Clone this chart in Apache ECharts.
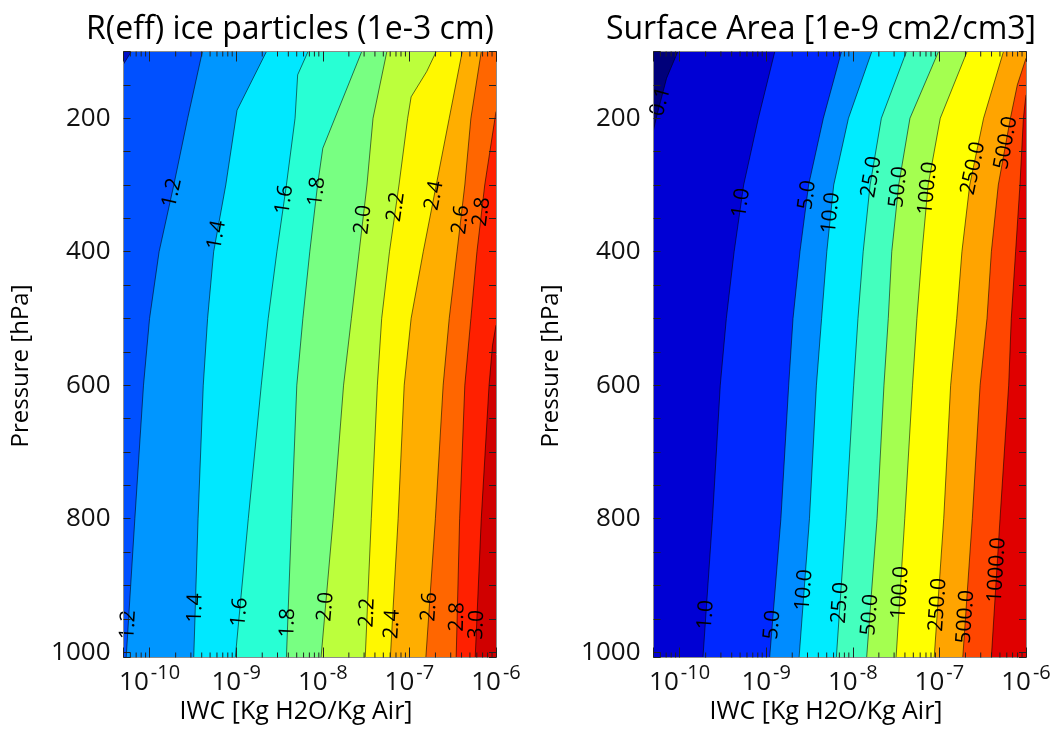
<!DOCTYPE html>
<html>
<head>
<meta charset="utf-8">
<script src="https://cdn.jsdelivr.net/npm/echarts@6.0.0/dist/echarts.min.js"></script>
<style>
  html, body { margin: 0; padding: 0; background: #ffffff; }
  #chart { width: 1061px; height: 729px; }
</style>
</head>
<body>
<div id="chart"></div>
<script>
// ---------------------------------------------------------------------------
// Contour traces. Each point is [pressure (hPa), log10 of IWC (kg H2O / kg air)]
// ---------------------------------------------------------------------------

// Effective radius of ice particles (1e-3 cm)
const reffLevels = ['1.0', '1.2', '1.4', '1.6', '1.8', '2.0', '2.2', '2.4', '2.6', '2.8', '3.0'];
const reff_1_0 = [[100, -10.21], [119, -10.301]];
const reff_1_2 = [[100, -9.39], [200, -9.56], [300, -9.72], [400, -9.89], [500, -10.00], [600, -10.07], [800, -10.17], [1008, -10.27]];
const reff_1_4 = [[100, -8.65], [188, -8.99], [300, -9.12], [400, -9.26], [500, -9.33], [600, -9.38], [800, -9.44], [1008, -9.49]];
const reff_1_6 = [[100, -8.17], [135, -8.29], [200, -8.32], [300, -8.42], [400, -8.53], [500, -8.63], [600, -8.71], [800, -8.86], [1008, -9.01]];
const reff_1_8 = [[100, -7.55], [245, -8.00], [300, -8.06], [400, -8.15], [500, -8.23], [600, -8.30], [800, -8.36], [1008, -8.42]];
const reff_2_0 = [[100, -7.26], [200, -7.42], [300, -7.49], [400, -7.58], [500, -7.67], [600, -7.76], [800, -7.88], [1008, -8.02]];
const reff_2_2 = [[100, -6.69], [130, -6.80], [168, -6.98], [200, -7.02], [300, -7.12], [400, -7.23], [500, -7.32], [600, -7.37], [800, -7.44], [1008, -7.51]];
const reff_2_4 = [[100, -6.39], [200, -6.54], [300, -6.69], [400, -6.84], [500, -6.98], [600, -7.06], [800, -7.13], [1008, -7.22]];
const reff_2_6 = [[100, -6.17], [200, -6.29], [300, -6.36], [400, -6.45], [500, -6.54], [600, -6.61], [800, -6.70], [1008, -6.81]];
const reff_2_8 = [[190, -6.00], [300, -6.13], [400, -6.22], [500, -6.29], [600, -6.36], [800, -6.42], [1008, -6.46]];
const reff_3_0 = [[510, -6.00], [540, -6.04], [600, -6.08], [800, -6.17], [1008, -6.24]];
// pressure where each level is labelled (upper and lower row)
const reffLabelTop = [null, 312, 375, 322, 310, 352, 333, 316, 352, 340, null];
const reffLabelBottom = [null, 959, 934, 940, 956, 932, 941, 958, 932, 947, 959];
// fill colours, lowest band first
const reffColors = ['#0010c8', '#0050ff', '#0096ff', '#00e8ff', '#28ffd4', '#78ff82',
                    '#bcff3c', '#fff800', '#ffae00', '#ff6600', '#ff2000', '#d00000'];

// Surface area (1e-9 cm2/cm3)
const saLevels = ['0.1', '1.0', '5.0', '10.0', '25.0', '50.0', '100.0', '250.0', '500.0', '1000.0'];
const sa_0_1 = [[100, -10.02], [140, -10.15], [175, -10.22], [200, -10.27], [218, -10.301]];
const sa_1 = [[100, -8.90], [200, -9.09], [300, -9.26], [400, -9.37], [500, -9.46], [600, -9.53], [800, -9.62], [1008, -9.73]];
const sa_5 = [[100, -8.13], [200, -8.34], [300, -8.51], [400, -8.61], [500, -8.69], [600, -8.74], [800, -8.83], [1008, -8.96]];
const sa_10 = [[100, -7.78], [200, -8.05], [300, -8.22], [400, -8.30], [500, -8.36], [600, -8.42], [800, -8.50], [1008, -8.62]];
const sa_25 = [[100, -7.38], [200, -7.67], [300, -7.80], [400, -7.88], [500, -7.94], [600, -7.99], [800, -8.08], [1008, -8.19]];
const sa_50 = [[100, -7.01], [200, -7.34], [300, -7.47], [400, -7.55], [500, -7.59], [600, -7.64], [800, -7.72], [1008, -7.84]];
const sa_100 = [[100, -6.68], [200, -6.99], [300, -7.13], [400, -7.20], [500, -7.26], [600, -7.31], [800, -7.40], [1008, -7.50]];
const sa_250 = [[100, -6.26], [200, -6.49], [300, -6.65], [400, -6.74], [500, -6.80], [600, -6.87], [800, -6.95], [1008, -7.06]];
const sa_500 = [[110, -6.00], [150, -6.10], [200, -6.18], [300, -6.32], [400, -6.40], [500, -6.45], [600, -6.53], [800, -6.62], [1008, -6.73]];
const sa_1000 = [[165, -6.00], [200, -6.03], [300, -6.07], [400, -6.12], [500, -6.17], [600, -6.20], [800, -6.30], [1008, -6.40]];
const saLabelTop = [175, 327, 315, 342, 288, 303, 305, 275, 237, null];
const saLabelBottom = [null, 944, 959, 907, 926, 944, 911, 929, 947, 877];
const saColors = ['#00007a', '#0000d4', '#0028ff', '#008cff', '#00ecff', '#44ffbe',
                  '#a4ff50', '#ffff00', '#ffa400', '#ff4600', '#e00000'];

// Axis ranges and tick labels
const IWC_MIN = 5e-11, IWC_MAX = 1e-6;
const P_TOP = 100, P_BOTTOM = 1008;
const pressureLabels = [200, 400, 600, 800, 1000];

const reffLines = [reff_1_0, reff_1_2, reff_1_4, reff_1_6, reff_1_8, reff_2_0, reff_2_2, reff_2_4, reff_2_6, reff_2_8, reff_3_0];
const saLines = [sa_0_1, sa_1, sa_5, sa_10, sa_25, sa_50, sa_100, sa_250, sa_500, sa_1000];

const FONT = '"Open Sans", "Noto Sans", "DejaVu Sans", sans-serif';

// minor log ticks (2..9 x 10^n) inside the IWC range
const minorIwcTicks = [];
for (let n = -11; n <= -7; n++) {
  for (let k = 2; k <= 9; k++) {
    const v = k * Math.pow(10, n);
    if (v > IWC_MIN * 1.001 && v < IWC_MAX * 0.999) minorIwcTicks.push(v);
  }
}

const toPt = (api, d) => api.coord([Math.pow(10, d[1]), d[0]]);

// filled bands, painted from lowest to highest level
function fillSeries(xi, yi, lines, colors) {
  return {
    type: 'custom', xAxisIndex: xi, yAxisIndex: yi, z: 2, silent: true, clip: true,
    data: colors.map((c, i) => [1e-8, 500, i]),
    renderItem(params, api) {
      const i = api.value(2);
      let pts;
      if (i === 0) {
        pts = [api.coord([IWC_MIN, P_TOP]), api.coord([IWC_MIN, P_BOTTOM]),
               api.coord([IWC_MAX, P_BOTTOM]), api.coord([IWC_MAX, P_TOP])];
      } else {
        const line = lines[i - 1];
        pts = line.map(d => toPt(api, d));
        const last = line[line.length - 1];
        if (last[1] <= -10.3) pts.push(api.coord([IWC_MIN, P_BOTTOM]));
        pts.push(api.coord([IWC_MAX, P_BOTTOM]));
        pts.push(api.coord([IWC_MAX, P_TOP]));
      }
      return { type: 'polygon', shape: { points: pts }, style: { fill: colors[i] } };
    }
  };
}

function placeOnLine(line, p, api) {
  for (let k = 0; k < line.length - 1; k++) {
    if (p >= line[k][0] && p <= line[k + 1][0]) {
      const A = toPt(api, line[k]);
      const B = toPt(api, line[k + 1]);
      const t = (p - line[k][0]) / (line[k + 1][0] - line[k][0]);
      const dx = A[0] - B[0], dy = A[1] - B[1];
      return { x: A[0] + t * (B[0] - A[0]), y: A[1] + t * (B[1] - A[1]), r: Math.atan2(-dy, dx) };
    }
  }
  return null;
}

// contour lines with their value labels
function contourSeries(xi, yi, lines, levels, topP, botP) {
  return {
    type: 'custom', xAxisIndex: xi, yAxisIndex: yi, z: 3, silent: true, clip: false,
    data: lines.map((l, i) => [1e-8, 500, i]),
    renderItem(params, api) {
      const i = api.value(2);
      const line = lines[i];
      const children = [{
        type: 'polyline',
        shape: { points: line.map(d => toPt(api, d)) },
        style: { stroke: 'rgba(0,0,0,0.7)', lineWidth: 0.8, fill: null }
      }];
      [topP[i], botP[i]].forEach(p => {
        if (p == null) return;
        const lab = placeOnLine(line, p, api);
        if (!lab) return;
        children.push({
          type: 'text', x: lab.x, y: lab.y, rotation: lab.r,
          style: {
            text: levels[i], fill: '#000', fontSize: 21, fontFamily: FONT,
            align: 'center', verticalAlign: 'middle'
          }
        });
      });
      return { type: 'group', children };
    }
  };
}

// minor log ticks on the bottom and top edges
function minorTickSeries(xi, yi) {
  return {
    type: 'custom', xAxisIndex: xi, yAxisIndex: yi, z: 12, silent: true, clip: false,
    data: minorIwcTicks.map(v => [v, 500]),
    renderItem(params, api) {
      const v = api.value(0);
      const top = api.coord([v, P_TOP]);
      const bot = api.coord([v, P_BOTTOM]);
      const st = { stroke: '#222', lineWidth: 1 };
      return {
        type: 'group', children: [
          { type: 'line', shape: { x1: bot[0], y1: bot[1], x2: bot[0], y2: bot[1] - 5 }, style: st },
          { type: 'line', shape: { x1: top[0], y1: top[1], x2: top[0], y2: top[1] + 5 }, style: st }
        ]
      };
    }
  };
}

function xAxisDef(gi, pos) {
  return {
    type: 'log', logBase: 10, gridIndex: gi, position: pos, min: IWC_MIN, max: IWC_MAX, z: 10,
    axisLine: { show: true, onZero: false, lineStyle: { color: '#8c8c8c', width: 1 } },
    axisTick: { show: true, inside: true, length: 10, lineStyle: { color: '#222', width: 1 } },
    splitLine: { show: false },
    axisLabel: pos === 'bottom' ? {
      show: true, margin: 6, color: '#111',
      formatter: v => {
        const e = Math.log10(v), r = Math.round(e);
        return Math.abs(e - r) > 1e-6 ? '' : '{b|10}{s|' + r + '}';
      },
      rich: {
        b: { fontSize: 26, lineHeight: 38, fontFamily: FONT, color: '#111' },
        s: { fontSize: 20, lineHeight: 14, verticalAlign: 'top', fontFamily: FONT, color: '#111', padding: [0, 0, 0, 2] }
      }
    } : { show: false }
  };
}

function yAxisDef(gi, pos) {
  return {
    type: 'value', gridIndex: gi, position: pos, inverse: true, min: P_TOP, max: P_BOTTOM, interval: 50, z: 10,
    axisLine: { show: true, onZero: false, lineStyle: { color: '#8c8c8c', width: 1 } },
    axisTick: { show: true, inside: true, length: 7, lineStyle: { color: '#222', width: 1 } },
    splitLine: { show: false },
    axisLabel: pos === 'left' ? {
      show: true, margin: 13, color: '#111', fontSize: 26, fontFamily: FONT,
      formatter: v => pressureLabels.indexOf(v) >= 0 ? String(v) : ''
    } : { show: false }
  };
}

const textEl = (x, y, text, size, rot) => ({
  type: 'text', x, y, rotation: rot || 0, z: 20,
  style: { text, fill: '#000', fontSize: size, fontFamily: FONT, align: 'center', verticalAlign: 'middle' }
});

const chart = echarts.init(document.getElementById('chart'), null, { renderer: 'canvas' });
chart.setOption({
  animation: false,
  backgroundColor: '#ffffff',
  grid: [
    { left: 123.5, top: 51.5, width: 372.5, height: 606, containLabel: false, outerBoundsMode: 'none' },
    { left: 653.5, top: 51.5, width: 372.5, height: 606, containLabel: false, outerBoundsMode: 'none' }
  ],
  xAxis: [xAxisDef(0, 'bottom'), xAxisDef(0, 'top'), xAxisDef(1, 'bottom'), xAxisDef(1, 'top')],
  yAxis: [yAxisDef(0, 'left'), yAxisDef(0, 'right'), yAxisDef(1, 'left'), yAxisDef(1, 'right')],
  graphic: [
    textEl(290, 30, 'R(eff) ice particles (1e-3 cm)', 32),
    textEl(821, 30, 'Surface Area [1e-9 cm2/cm3]', 32),
    textEl(296, 712, 'IWC [Kg H2O/Kg Air]', 25),
    textEl(826, 712, 'IWC [Kg H2O/Kg Air]', 25),
    textEl(21, 366, 'Pressure [hPa]', 24, Math.PI / 2),
    textEl(551, 366, 'Pressure [hPa]', 24, Math.PI / 2)
  ],
  series: [
    fillSeries(0, 0, reffLines, reffColors),
    fillSeries(2, 2, saLines, saColors),
    contourSeries(0, 0, reffLines, reffLevels, reffLabelTop, reffLabelBottom),
    contourSeries(2, 2, saLines, saLevels, saLabelTop, saLabelBottom),
    minorTickSeries(0, 0),
    minorTickSeries(2, 2)
  ]
});
</script>
</body>
</html>
